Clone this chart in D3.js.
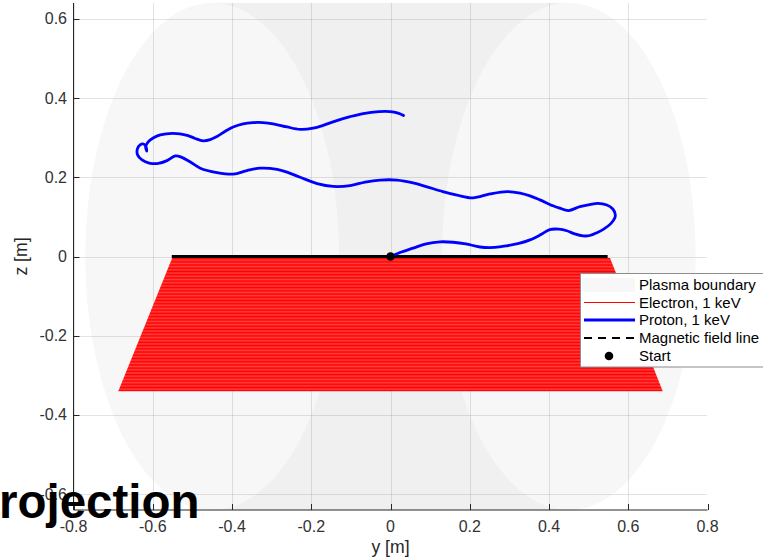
<!DOCTYPE html>
<html><head><meta charset="utf-8">
<script src="https://cdn.jsdelivr.net/npm/d3@7"></script>
<style>
body{margin:0;background:#fff}
svg{display:block}
text{font-family:"Liberation Sans",Arial,Helvetica,sans-serif}
</style>
</head><body>
<svg id="chart" width="763" height="560"></svg>
<script>
// ---------- data ----------
const xTicks = [-0.8, -0.6, -0.4, -0.2, 0, 0.2, 0.4, 0.6, 0.8];
const xTickLabels = ["-0.8", "-0.6", "-0.4", "-0.2", "0", "0.2", "0.4", "0.6", "0.8"];
const zTicks = [-0.6, -0.4, -0.2, 0, 0.2, 0.4, 0.6];
const zTickLabels = ["-0.6", "-0.4", "-0.2", "0", "0.2", "0.4", "0.6"];

// plasma boundary: elliptic poloidal cross-section (major radius, minor radius, elongation)
const plasmaR0 = 0.45;
const plasmaA = 0.32;
const plasmaKappa = 2.0;

// electron drift region, corners (y, z)
const electronY = [-0.551, 0.554, 0.687, -0.687];
const electronZ = [-0.004, -0.004, -0.340, -0.340];

// magnetic field line
const fieldY = [-0.552, 0.548];
const fieldZ = [0, 0];

// proton trajectory (y, z)
const protonY = [0.000, 0.024, 0.057, 0.090, 0.125, 0.158, 0.190, 0.226, 0.263, 0.294, 0.324, 0.352, 0.377, 0.402, 0.425, 0.445, 0.465, 0.486, 0.503, 0.521, 0.538, 0.556, 0.566, 0.567, 0.561, 0.546, 0.523, 0.503, 0.478, 0.449, 0.427, 0.410, 0.377, 0.352, 0.327, 0.294, 0.251, 0.208, 0.168, 0.132, 0.092, 0.057, 0.016, -0.026, -0.064, -0.102, -0.145, -0.185, -0.228, -0.261, -0.286, -0.329, -0.362, -0.397, -0.438, -0.480, -0.506, -0.528, -0.543, -0.564, -0.586, -0.609, -0.627, -0.638, -0.639, -0.632, -0.623, -0.617, -0.615, -0.618, -0.612, -0.599, -0.581, -0.549, -0.513, -0.493, -0.473, -0.455, -0.438, -0.417, -0.397, -0.372, -0.347, -0.322, -0.296, -0.261, -0.228, -0.195, -0.170, -0.145, -0.102, -0.069, -0.029, -0.001, 0.019, 0.033];
const protonZ = [0.000, 0.010, 0.021, 0.032, 0.037, 0.036, 0.032, 0.024, 0.023, 0.027, 0.033, 0.042, 0.054, 0.068, 0.069, 0.065, 0.057, 0.052, 0.053, 0.060, 0.069, 0.083, 0.097, 0.107, 0.120, 0.130, 0.134, 0.131, 0.126, 0.116, 0.122, 0.128, 0.143, 0.153, 0.160, 0.164, 0.158, 0.148, 0.155, 0.164, 0.176, 0.186, 0.193, 0.193, 0.188, 0.179, 0.177, 0.184, 0.200, 0.213, 0.220, 0.223, 0.217, 0.208, 0.212, 0.223, 0.239, 0.251, 0.254, 0.242, 0.235, 0.236, 0.244, 0.256, 0.271, 0.282, 0.284, 0.277, 0.266, 0.277, 0.289, 0.299, 0.307, 0.311, 0.306, 0.298, 0.292, 0.295, 0.303, 0.316, 0.327, 0.335, 0.338, 0.338, 0.335, 0.327, 0.321, 0.324, 0.331, 0.340, 0.353, 0.361, 0.366, 0.366, 0.362, 0.356];

const startY = [0];
const startZ = [0];

const legendLabels = ["Plasma boundary", "Electron, 1 keV", "Proton, 1 keV", "Magnetic field line", "Start"];
const titleText = "rojection";

// ---------- layout ----------
const svg = d3.select("#chart");
const pL = 73.5, pR = 707.5, pT = 3, pB = 510;
const x = d3.scaleLinear().domain([-0.8, 0.8]).range([pL, pR]);
const z = d3.scaleLinear().domain([-0.64, 0.64]).range([pB, pT]);

const defs = svg.append("defs");
defs.append("clipPath").attr("id", "plotclip")
  .append("rect").attr("x", pL).attr("y", pT).attr("width", pR - pL).attr("height", pB - pT);

const pat = defs.append("pattern").attr("id", "ehatch").attr("patternUnits", "userSpaceOnUse")
  .attr("width", 7).attr("height", 1.45);
pat.append("rect").attr("width", 7).attr("height", 1.45).attr("fill", "#ff0000");
pat.append("rect").attr("y", 1.0).attr("width", 7).attr("height", 0.45).attr("fill", "#ffffff").attr("opacity", 0.4);

const plot = svg.append("g").attr("clip-path", "url(#plotclip)");

// ---------- plasma boundary ----------
const bSemi = plasmaA * plasmaKappa;
const ang = d3.range(-90, 90.5, 1).map(d => d * Math.PI / 180);
const half = t => plasmaA * Math.cos(t);
const outerPts = ang.map(t => [plasmaR0 + half(t), bSemi * Math.sin(t)])
  .concat(ang.slice().reverse().map(t => [-(plasmaR0 + half(t)), bSemi * Math.sin(t)]));
const innerPts = ang.map(t => [plasmaR0 - half(t), bSemi * Math.sin(t)])
  .concat(ang.slice().reverse().map(t => [-(plasmaR0 - half(t)), bSemi * Math.sin(t)]));
const line = d3.line().x(d => x(d[0])).y(d => z(d[1]));
plot.append("path").attr("d", line(outerPts) + "Z").attr("fill", "#f7f7f7");
plot.append("path").attr("d", line(innerPts) + "Z").attr("fill", "#f0f0f0");

// ---------- grid ----------
const grid = plot.append("g").attr("stroke", "#262626").attr("stroke-opacity", 0.13).attr("stroke-width", 1);
xTicks.forEach(v => grid.append("line").attr("x1", Math.round(x(v)) + 0.5).attr("x2", Math.round(x(v)) + 0.5).attr("y1", pT).attr("y2", pB));
zTicks.forEach(v => grid.append("line").attr("y1", Math.round(z(v)) + 0.5).attr("y2", Math.round(z(v)) + 0.5).attr("x1", pL).attr("x2", pR));

// ---------- electron ----------
const ePts = electronY.map((v, i) => [v, electronZ[i]]);
plot.append("path").attr("d", line(ePts) + "Z").attr("fill", "url(#ehatch)");

// ---------- field line ----------
plot.append("path").attr("d", line(fieldY.map((v, i) => [v, fieldZ[i]])))
  .attr("stroke", "#000").attr("stroke-width", 3).attr("fill", "none");

// ---------- proton ----------
plot.append("path").attr("d", d3.line().curve(d3.curveCatmullRom).x(d => x(d[0])).y(d => z(d[1]))(protonY.map((v, i) => [v, protonZ[i]])))
  .attr("stroke", "#0000ff").attr("stroke-width", 2.8).attr("fill", "none")
  .attr("stroke-linejoin", "round").attr("stroke-linecap", "round");

// ---------- start ----------
startY.forEach((v, i) => plot.append("circle").attr("cx", x(v)).attr("cy", z(startZ[i])).attr("r", 4.2).attr("fill", "#000"));

// ---------- axes ----------
const axisColor = "#262626";
const ax = svg.append("g");
ax.append("line").attr("x1", pL).attr("x2", pL).attr("y1", pT).attr("y2", pB).attr("stroke", axisColor);
ax.append("line").attr("x1", pL).attr("x2", pR).attr("y1", pB).attr("y2", pB).attr("stroke", axisColor);
xTicks.forEach((v, i) => {
  const px = Math.round(x(v)) + 0.5;
  ax.append("line").attr("x1", px).attr("x2", px).attr("y1", pB).attr("y2", pB - 6).attr("stroke", axisColor);
  ax.append("text").attr("x", x(v)).attr("y", 532).attr("text-anchor", "middle")
    .attr("font-size", 16).attr("fill", "#333").text(xTickLabels[i]);
});
zTicks.forEach((v, i) => {
  const py = Math.round(z(v)) + 0.5;
  ax.append("line").attr("x1", pL).attr("x2", pL + 6).attr("y1", py).attr("y2", py).attr("stroke", axisColor);
  ax.append("text").attr("x", 67).attr("y", z(v) + 5.5).attr("text-anchor", "end")
    .attr("font-size", 16).attr("fill", "#333").text(zTickLabels[i]);
});
svg.append("text").attr("x", (pL + pR) / 2).attr("y", 553).attr("text-anchor", "middle")
  .attr("font-size", 17.6).attr("fill", "#262626").text("y [m]");
svg.append("text").attr("transform", "translate(27," + ((pT + pB) / 2) + ") rotate(-90)")
  .attr("text-anchor", "middle").attr("font-size", 17.6).attr("fill", "#262626").text("z [m]");

// ---------- legend ----------
const lg = svg.append("g");
lg.append("rect").attr("x", 580.5).attr("y", 273.5).attr("width", 190).attr("height", 93.5)
  .attr("fill", "#fff").attr("stroke", "#8c8c8c").attr("stroke-width", 1);
const rowY = [285, 302.5, 320, 338, 356];
lg.append("rect").attr("x", 582).attr("y", 278).attr("width", 53).attr("height", 14).attr("fill", "#f7f7f7");
lg.append("line").attr("x1", 584).attr("x2", 635).attr("y1", rowY[1]).attr("y2", rowY[1]).attr("stroke", "#ff0000").attr("stroke-width", 1.2);
lg.append("line").attr("x1", 584).attr("x2", 635).attr("y1", rowY[2]).attr("y2", rowY[2]).attr("stroke", "#0000ff").attr("stroke-width", 2.8);
lg.append("line").attr("x1", 584).attr("x2", 635).attr("y1", rowY[3]).attr("y2", rowY[3]).attr("stroke", "#000").attr("stroke-width", 2.2).attr("stroke-dasharray", "8,6");
lg.append("circle").attr("cx", 609).attr("cy", rowY[4]).attr("r", 4.3).attr("fill", "#000");
legendLabels.forEach((t, i) => lg.append("text").attr("x", 639).attr("y", rowY[i] + 5.3)
  .attr("font-size", 15).attr("fill", "#000").text(t));

// ---------- title (partially visible) ----------
svg.append("text").attr("x", -1).attr("y", 518).attr("font-size", 47.5).attr("font-weight", "bold")
  .attr("fill", "#000").text(titleText);
</script>
</body></html>
